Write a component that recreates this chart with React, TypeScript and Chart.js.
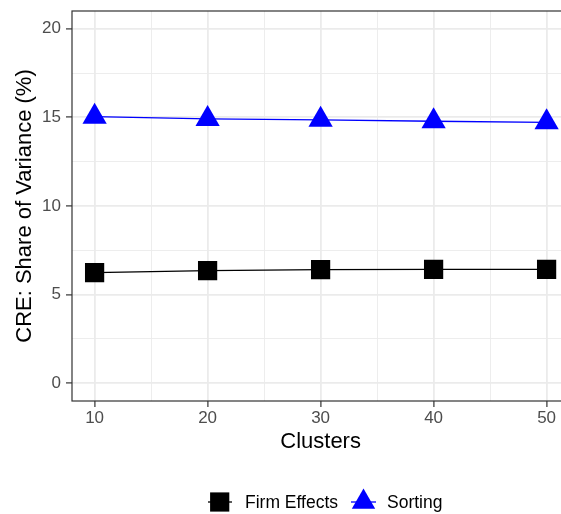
import React, { useEffect, useRef } from "react";
import { Chart, registerables } from "chart.js";

Chart.register(...registerables);

const clusters = [10, 20, 30, 40, 50];
const firmEffects = [6.24, 6.36, 6.41, 6.42, 6.42];
const sorting = [15.04, 14.91, 14.86, 14.78, 14.72];
const seriesNames = ["Firm Effects", "Sorting"];
const xTitle = "Clusters";
const yTitle = "CRE: Share of Variance (%)";
const xTickValues = [10, 15, 20, 25, 30, 35, 40, 45, 50];
const xTickLabels = ["10", "", "20", "", "30", "", "40", "", "50"];
const yTickValues = [0, 2.5, 5, 7.5, 10, 12.5, 15, 17.5, 20];
const yTickLabels = ["0", "", "5", "", "10", "", "15", "", "20"];

const FONT = "'Liberation Sans', Arial, Helvetica, sans-serif";
const GRID = "#EBEBEB";
const DARK = "#333333";
const TICKTXT = "#4D4D4D";

const borderPlugin = {
  id: "panelBorder",
  afterDatasetsDraw(chart: any) {
    const { ctx, chartArea: a } = chart;
    ctx.save();
    ctx.strokeStyle = DARK;
    ctx.lineWidth = 1.2;
    ctx.strokeRect(a.left, a.top, a.right - a.left, a.bottom - a.top);
    ctx.restore();
  },
};

const legendPlugin = {
  id: "ggLegend",
  afterDraw(chart: any) {
    const { ctx } = chart;
    const cy = 502;
    ctx.save();
    ctx.strokeStyle = "#000000";
    ctx.lineWidth = 1.3;
    ctx.beginPath();
    ctx.moveTo(208, cy);
    ctx.lineTo(232, cy);
    ctx.stroke();
    ctx.fillStyle = "#000000";
    ctx.fillRect(219.7 - 9.6, cy - 9.6, 19.2, 19.2);
    ctx.strokeStyle = "#0000FF";
    ctx.beginPath();
    ctx.moveTo(351, cy);
    ctx.lineTo(376, cy);
    ctx.stroke();
    ctx.fillStyle = "#0000FF";
    const tx = 363.5;
    const r = 13.5;
    ctx.beginPath();
    ctx.moveTo(tx, cy - r);
    ctx.lineTo(tx + 0.866 * r, cy + 0.5 * r);
    ctx.lineTo(tx - 0.866 * r, cy + 0.5 * r);
    ctx.closePath();
    ctx.fill();
    ctx.fillStyle = "#000000";
    ctx.font = `17.5px ${FONT}`;
    ctx.textBaseline = "middle";
    ctx.textAlign = "left";
    ctx.fillText(seriesNames[0], 245, cy + 1);
    ctx.fillText(seriesNames[1], 387, cy + 1);
    ctx.restore();
  },
};

const isMajor = (vals: number[], labels: string[], v: number) => {
  const i = vals.indexOf(v);
  return i >= 0 && labels[i] !== "";
};

export default function App() {
  const ref = useRef<HTMLCanvasElement>(null);

  useEffect(() => {
    if (!ref.current) return;
    const chart = new Chart(ref.current, {
      type: "line",
      data: {
        datasets: [
          {
            label: seriesNames[0],
            data: clusters.map((c, i) => ({ x: c, y: firmEffects[i] })),
            borderColor: "#000000",
            backgroundColor: "#000000",
            borderWidth: 1.3,
            pointStyle: "rect",
            pointRadius: 13.6,
            pointBorderWidth: 0,
            pointBackgroundColor: "#000000",
            tension: 0,
          },
          {
            label: seriesNames[1],
            data: clusters.map((c, i) => ({ x: c, y: sorting[i] })),
            borderColor: "#0000FF",
            backgroundColor: "#0000FF",
            borderWidth: 1.3,
            pointStyle: "triangle",
            pointRadius: 14,
            pointBorderWidth: 0,
            pointBackgroundColor: "#0000FF",
            tension: 0,
          },
        ],
      },
      options: {
        responsive: false,
        animation: false,
        devicePixelRatio: 1,
        layout: { autoPadding: false, padding: { left: 0, top: 11, right: 0.8, bottom: 0 } },
        plugins: {
          legend: { display: false },
          tooltip: { enabled: false },
        },
        scales: {
          x: {
            type: "linear",
            min: 8,
            max: 52,
            afterFit: (s: any) => {
              s.height = 113;
              s.paddingLeft = 0;
              s.paddingRight = 0;
            },
            afterBuildTicks: (s: any) => {
              s.ticks = xTickValues.map((v) => ({ value: v }));
            },
            ticks: {
              autoSkip: false,
              maxRotation: 0,
              padding: 1,
              color: TICKTXT,
              font: { family: FONT, size: 17 },
              callback: (v: any) => {
                const i = xTickValues.indexOf(Number(v));
                return i >= 0 ? xTickLabels[i] : "";
              },
            },
            grid: {
              color: GRID,
              lineWidth: (c: any) =>
                c.tick && isMajor(xTickValues, xTickLabels, c.tick.value) ? 1.8 : 0.9,
              tickColor: (c: any) =>
                c.tick && isMajor(xTickValues, xTickLabels, c.tick.value) ? DARK : "rgba(0,0,0,0)",
              tickLength: 6,
              tickWidth: 1.2,
              drawTicks: true,
            },
            border: { display: false },
            title: {
              display: true,
              text: xTitle,
              color: "#000000",
              font: { family: FONT, size: 22 },
              padding: { top: 0, bottom: 58.5 },
            },
          },
          y: {
            type: "linear",
            min: -1,
            max: 21,
            afterFit: (s: any) => {
              s.width = 72;
              s.paddingTop = 0;
              s.paddingBottom = 0;
            },
            afterBuildTicks: (s: any) => {
              s.ticks = yTickValues.map((v) => ({ value: v }));
            },
            ticks: {
              padding: 5,
              color: TICKTXT,
              font: { family: FONT, size: 17 },
              callback: (v: any) => {
                const i = yTickValues.indexOf(Number(v));
                return i >= 0 ? yTickLabels[i] : "";
              },
            },
            grid: {
              color: GRID,
              lineWidth: (c: any) =>
                c.tick && isMajor(yTickValues, yTickLabels, c.tick.value) ? 1.8 : 0.9,
              tickColor: (c: any) =>
                c.tick && isMajor(yTickValues, yTickLabels, c.tick.value) ? DARK : "rgba(0,0,0,0)",
              tickLength: 6,
              tickWidth: 1.2,
              drawTicks: true,
            },
            border: { display: false },
            title: {
              display: true,
              text: yTitle,
              color: "#000000",
              font: { family: FONT, size: 22 },
              padding: { top: 11.5, bottom: 0 },
            },
          },
        },
      },
      plugins: [borderPlugin, legendPlugin],
    } as any);
    return () => chart.destroy();
  }, []);

  return (
    <div
      style={{
        position: "fixed",
        left: 0,
        top: 0,
        width: 561,
        height: 514,
        overflow: "hidden",
        background: "#FFFFFF",
      }}
    >
      <canvas ref={ref} width={570} height={514} style={{ display: "block" }} />
    </div>
  );
}
